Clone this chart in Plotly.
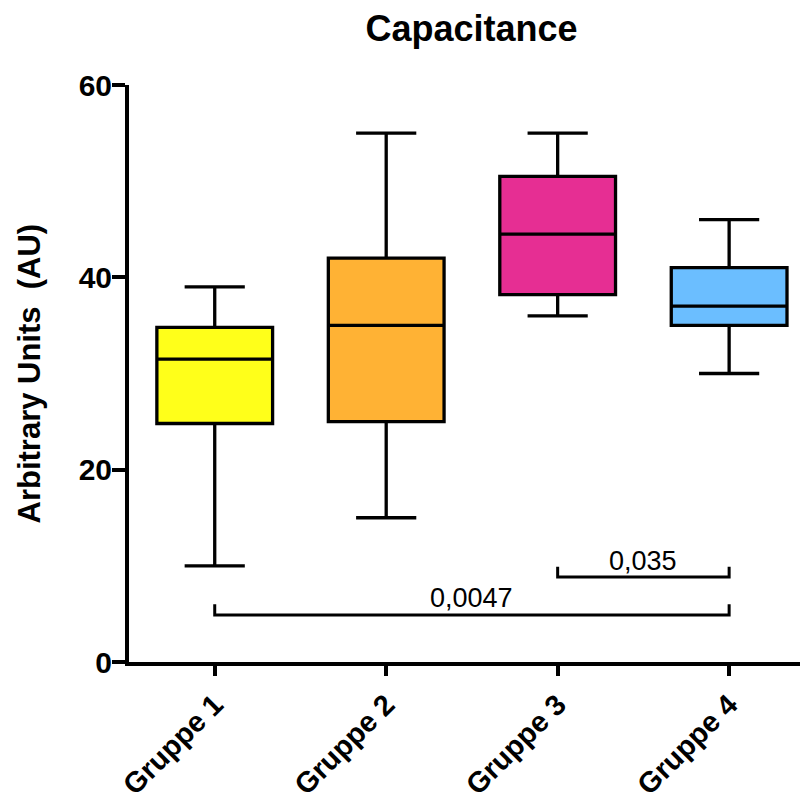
import plotly.graph_objects as go

# ---- data ----
groups = ["Gruppe 1", "Gruppe 2", "Gruppe 3", "Gruppe 4"]
lower_whisker = [10, 15, 36, 30]
q1_vals = [24.8, 25.0, 38.2, 35.0]
median_vals = [31.5, 35.0, 44.5, 37.0]
q3_vals = [34.8, 42.0, 50.5, 41.0]
upper_whisker = [39, 55, 55, 46]
colors = ["#FFFF1A", "#FFB234", "#E62E93", "#6BBEFF"]

# significance brackets: (start group index, end group index)
bracket_from = [2, 0]
bracket_to = [3, 3]
bracket_level = [8.85, 4.9]
bracket_tip = [9.9, 6.0]
bracket_labels = ["0,035", "0,0047"]

y_ticks = [0, 20, 40, 60]

FONT = "Liberation Sans, Arial, sans-serif"

# page body has an 8px default margin; figure is sized to fill the rest
W, H = 800, 792

fig = go.Figure()

for i, g in enumerate(groups):
    fig.add_trace(go.Box(
        x=[i],
        q1=[q1_vals[i]], median=[median_vals[i]], q3=[q3_vals[i]],
        lowerfence=[lower_whisker[i]], upperfence=[upper_whisker[i]],
        fillcolor=colors[i],
        line=dict(color="black", width=3.3),
        width=0.675,
        whiskerwidth=0.52,
        boxpoints=False,
        showlegend=False,
        hoverinfo="skip",
        name=g,
    ))

for a, b, lvl, tip, lab in zip(bracket_from, bracket_to, bracket_level, bracket_tip, bracket_labels):
    fig.add_trace(go.Scatter(
        x=[a, a, b, b], y=[tip, lvl, lvl, tip],
        mode="lines", line=dict(color="black", width=3),
        showlegend=False, hoverinfo="skip",
    ))
    fig.add_annotation(
        x=(a + b) / 2, y=tip, xref="x", yref="y",
        text=lab, showarrow=False, yanchor="middle", yshift=6,
        font=dict(family=FONT, size=27, color="black"),
    )

fig.update_layout(
    width=W, height=H,
    margin=dict(l=121, r=0, t=77, b=138),
    plot_bgcolor="white", paper_bgcolor="white",
    title=dict(
        text="<b>Capacitance</b>",
        x=463.5 / W, xref="container", xanchor="center",
        y=1 - 20 / H, yref="container", yanchor="middle",
        font=dict(family=FONT, size=36, color="black"),
    ),
    xaxis=dict(
        range=[-0.5, 3.46],
        tickmode="array", tickvals=list(range(len(groups))),
        ticktext=["<b>%s</b>" % g for g in groups],
        tickangle=-45,
        showline=True, linecolor="black", linewidth=4,
        ticks="outside", ticklen=10, tickwidth=4, tickcolor="black",
        showgrid=False, zeroline=False,
        tickfont=dict(family=FONT, size=29, color="black"),
    ),
    yaxis=dict(
        range=[0, 60],
        tickmode="array", tickvals=y_ticks,
        ticktext=["<b>%d</b>" % v for v in y_ticks],
        showline=True, linecolor="black", linewidth=4,
        ticks="outside", ticklen=13, tickwidth=4, tickcolor="black",
        showgrid=False, zeroline=False,
        ticklabelstandoff=-6,
        tickfont=dict(family=FONT, size=30, color="black"),
    ),
)

fig.add_annotation(
    x=0, xref="paper", xshift=-(121 - 21),
    y=0.5, yref="paper",
    text="<b>Arbitrary Units  (AU)</b>", textangle=-90,
    showarrow=False, xanchor="center", yanchor="middle",
    font=dict(family=FONT, size=31, color="black"),
)

fig.write_html("out.html")
